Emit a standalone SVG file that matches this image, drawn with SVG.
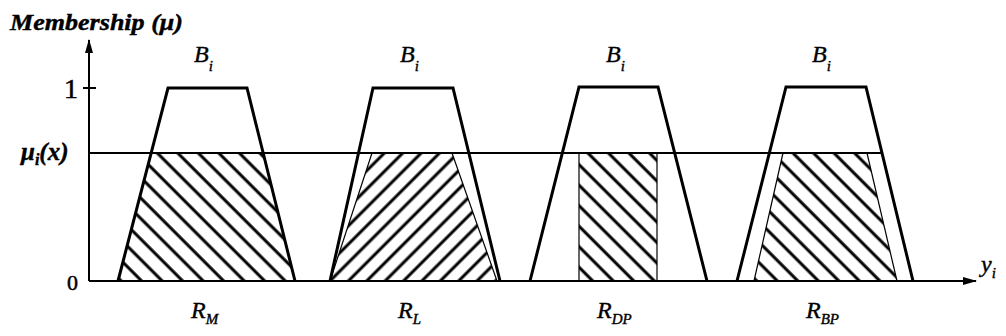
<svg xmlns="http://www.w3.org/2000/svg" width="1006" height="336" viewBox="0 0 1006 336">
<style>
.lbl{font-family:"Liberation Serif","Times New Roman",serif;font-style:italic;fill:#000;stroke:#000;stroke-width:0.4}
.num{font-family:"Liberation Serif","Times New Roman",serif;fill:#000;stroke:#000;stroke-width:0.5}
.trap{fill:none;stroke:#000;stroke-width:3;stroke-linejoin:miter}
.axis{stroke:#000;stroke-width:2;fill:none}
.thin{stroke:#000;stroke-width:1.2;fill:none}
</style>
<defs>
<pattern id="hatchBack" patternUnits="userSpaceOnUse" width="14.5" height="14.5" patternTransform="rotate(-45)">
<line x1="3" y1="-1" x2="3" y2="16" stroke="#000" stroke-width="3"/>
</pattern>
<pattern id="hatchFwd" patternUnits="userSpaceOnUse" width="13" height="13" patternTransform="rotate(45)">
<line x1="3" y1="-1" x2="3" y2="14" stroke="#000" stroke-width="3"/>
</pattern>
<marker id="arr" markerWidth="14" markerHeight="10" refX="13" refY="5" orient="auto" markerUnits="userSpaceOnUse">
<path d="M0,1 L14,5 L0,9 Z" fill="#000"/>
</marker>
</defs>
<rect width="1006" height="336" fill="#fff"/>

<g id="axes">
<line class="axis" x1="89" y1="281" x2="89" y2="40" marker-end="url(#arr)"/>
<line class="axis" x1="89" y1="281" x2="976" y2="281" marker-end="url(#arr)"/>
<line class="axis" x1="83" y1="88" x2="96" y2="88"/>
<line class="axis" x1="89" y1="153" x2="883" y2="153"/>
<text class="lbl" x="10" y="30" font-size="24" font-weight="bold" textLength="173" lengthAdjust="spacingAndGlyphs">Membership (μ)</text>
<text class="num" x="78" y="98" font-size="28" text-anchor="end">1</text>
<text class="num" x="78" y="290" font-size="22" text-anchor="end">0</text>
<text class="lbl" x="21" y="160" font-size="25" font-weight="bold">μ<tspan font-size="16" dy="5">i</tspan><tspan dy="-5">(x)</tspan></text>
<text class="lbl" x="981" y="272" font-size="24">y<tspan font-size="15" dy="6">i</tspan></text>
</g>

<g id="node-RM">
<polygon points="151,153 263,153 295,281 118,281" fill="url(#hatchBack)"/>
<polyline class="trap" points="118,281 168,88 247,88 295,281"/>
<text class="lbl" x="194" y="62" font-size="24">B<tspan font-size="15" dy="9">i</tspan></text>
<text class="lbl" x="191" y="318" font-size="24">R<tspan font-size="15" dy="6">M</tspan></text>
</g>

<g id="node-RL">
<polygon points="372,153 452,153 497,281 330,281" fill="url(#hatchFwd)"/>
<polyline class="thin" points="372,153 330,281"/>
<polyline class="thin" points="452,153 497,281"/>
<polyline class="trap" points="330,281 373,88 453,88 500,281"/>
<text class="lbl" x="400" y="62" font-size="24">B<tspan font-size="15" dy="9">i</tspan></text>
<text class="lbl" x="398" y="318" font-size="24">R<tspan font-size="15" dy="6">L</tspan></text>
</g>

<g id="node-RDP">
<rect x="579" y="153" width="78" height="128" fill="url(#hatchBack)"/>
<line class="thin" x1="579" y1="153" x2="579" y2="281" stroke-width="1.6"/>
<line class="thin" x1="657" y1="153" x2="657" y2="281" stroke-width="1.6"/>
<polyline class="trap" points="530,281 579,87 658,87 707,281"/>
<text class="lbl" x="606" y="62" font-size="24">B<tspan font-size="15" dy="9">i</tspan></text>
<text class="lbl" x="597" y="318" font-size="24">R<tspan font-size="15" dy="6">DP</tspan></text>
</g>

<g id="node-RBP">
<polygon points="783,153 867,153 897,281 754,281" fill="url(#hatchBack)"/>
<polyline class="thin" points="783,153 754,281"/>
<polyline class="thin" points="867,153 897,281"/>
<polyline class="trap" points="737,281 786,87 866,87 913,281"/>
<text class="lbl" x="812" y="62" font-size="24">B<tspan font-size="15" dy="9">i</tspan></text>
<text class="lbl" x="806" y="318" font-size="24">R<tspan font-size="15" dy="6">BP</tspan></text>
</g>
</svg>
